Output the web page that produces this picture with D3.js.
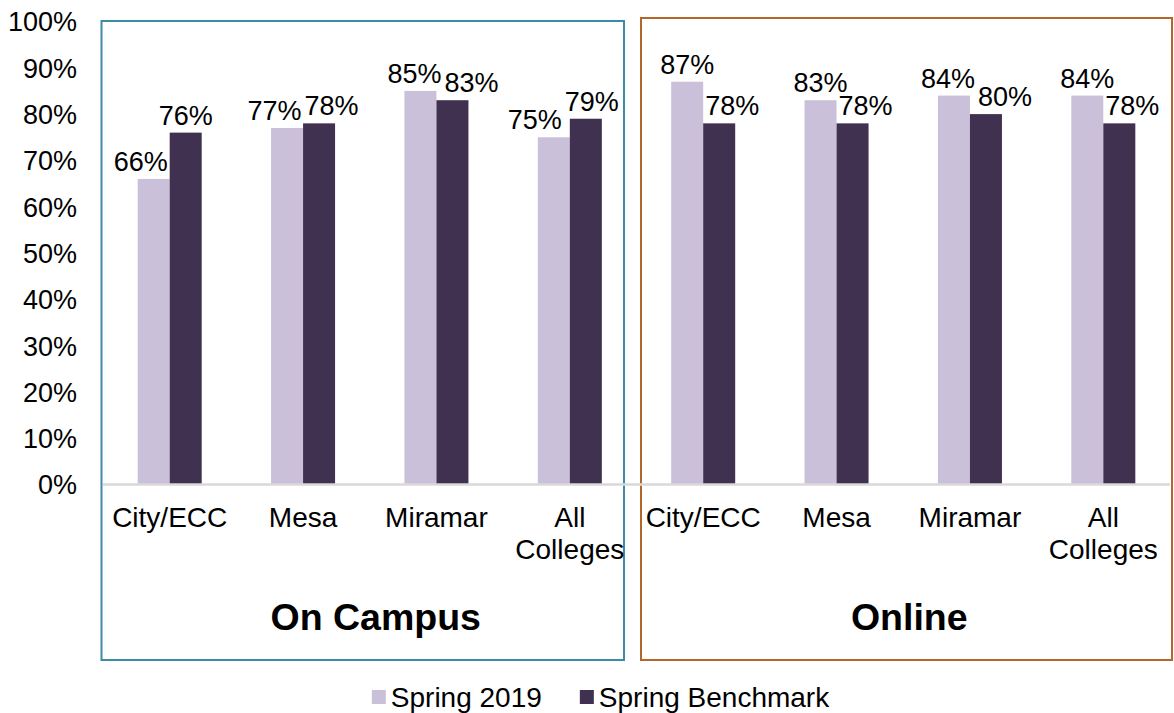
<!DOCTYPE html>
<html><head><meta charset="utf-8">
<script src="https://cdn.jsdelivr.net/npm/d3@7"></script>
<style>body{margin:0;background:#fff}svg{display:block;font-family:"Liberation Sans",Arial,sans-serif}</style>
</head><body><svg id="c" width="1174" height="713"></svg>
<script>
const groups = ["On Campus", "Online"];
const categories = ["City/ECC", "Mesa", "Miramar", "All Colleges"];
const seriesNames = ["Spring 2019", "Spring Benchmark"];
const spring2019 = [0.66, 0.77, 0.85, 0.75, 0.87, 0.83, 0.84, 0.84];
const benchmark = [0.76, 0.78, 0.83, 0.79, 0.78, 0.78, 0.80, 0.78];
const yTicks = [0, 0.1, 0.2, 0.3, 0.4, 0.5, 0.6, 0.7, 0.8, 0.9, 1.0];
const colors = ["#cbc0da", "#403151"];
const groupBorders = ["#3d8ca3", "#b3672a"];

(function () {
const svg = d3.select("#c");
const W = 1174, H = 713;
const mLeft = 103, mRight = 1170, mTop = 21.5, mBottom = 484.5;
const fs = 27, catFs = 28, legFs = 28;

const rows = [];
groups.forEach((g, gi) => categories.forEach((c, ci) => rows.push({g, gi, c, i: gi * categories.length + ci})));

const x = d3.scaleBand().domain(rows.map(r => r.i)).range([mLeft, mRight]).padding(0);
const y = d3.scaleLinear().domain([0, 1]).range([mBottom, mTop]);
const bw = x.bandwidth() * 0.24;

// group boxes
const bStart = x(categories.length);
const boxes = [
  {x0: mLeft - 1.5, x1: bStart - 12.5, y0: 21, y1: 660, c: groupBorders[0]},
  {x0: bStart + 4.5, x1: W - 2, y0: 18, y1: 660, c: groupBorders[1]}
];
svg.selectAll("rect.box").data(boxes).join("rect").attr("class", "box")
  .attr("x", d => d.x0).attr("y", d => d.y0).attr("width", d => d.x1 - d.x0).attr("height", d => d.y1 - d.y0)
  .attr("fill", "none").attr("stroke", d => d.c).attr("stroke-width", 2);

// y axis
const yAxis = d3.axisLeft(y).tickValues(yTicks).tickFormat(d3.format(".0%")).tickSize(0).tickPadding(0);
const ya = svg.append("g").attr("transform", `translate(77,0)`).call(yAxis);
ya.select(".domain").remove();
ya.selectAll("text").attr("font-size", fs).attr("fill", "#000").attr("font-family", "Liberation Sans, Arial, sans-serif").attr("dy", "0.35em");

// bars
const series = [spring2019, benchmark];
const bars = [];
rows.forEach(r => series.forEach((s, si) => bars.push({i: r.i, si, v: s[r.i], x0: x(r.i) + x.bandwidth() / 2 - bw + si * bw})));
svg.selectAll("rect.bar").data(bars).join("rect").attr("class", "bar")
  .attr("x", d => d.x0).attr("y", d => y(d.v)).attr("width", bw).attr("height", d => y(0) - y(d.v))
  .attr("fill", d => colors[d.si]);

// baseline
svg.append("line").attr("x1", mLeft).attr("x2", mRight).attr("y1", y(0)).attr("y2", y(0))
  .attr("stroke", "#d9d9d9").attr("stroke-width", 2.5);

// data labels with simple overlap avoidance
const lab = svg.append("g");
const labels = bars.map(d => {
  const t = lab.append("text").attr("font-size", fs).attr("text-anchor", "middle").text(d3.format(".0%")(d.v));
  const w = t.node().getComputedTextLength();
  const base = y(d.v) - 8;
  return {d, t, w, base, cx: d.x0 + bw / 2, y0: base - 0.72 * fs, y1: base};
});
rows.forEach(r => {
  const [a, b] = labels.filter(l => l.d.i === r.i);
  const ba = bars.find(q => q.i === r.i && q.si === 0), bb = bars.find(q => q.i === r.i && q.si === 1);
  if (a.cx + a.w / 2 > bb.x0 && a.y1 > y(bb.v)) a.cx = bb.x0 - 2 - a.w / 2;
  if (b.cx - b.w / 2 < ba.x0 + bw && b.y1 > y(ba.v)) b.cx = ba.x0 + bw + 2 + b.w / 2;
  const ov = (a.cx + a.w / 2) - (b.cx - b.w / 2);
  if (ov > -3 && a.y1 > b.y0 && b.y1 > a.y0) { const s = (ov + 3) / 2; a.cx -= s; b.cx += s; }
});
labels.forEach(l => l.t.attr("x", l.cx).attr("y", l.base));

// category labels
const cat = svg.append("g").selectAll("text").data(rows).join("text")
  .attr("font-size", catFs).attr("text-anchor", "middle")
  .attr("x", d => x(d.i) + x.bandwidth() / 2).attr("y", 527);
cat.each(function(d) {
  const parts = d.c.split(" ");
  d3.select(this).selectAll("tspan").data(parts).join("tspan")
    .attr("x", x(d.i) + x.bandwidth() / 2).attr("dy", (p, k) => k ? 32 : 0).text(p => p);
});

// group titles
svg.append("g").selectAll("text").data(groups).join("text")
  .attr("font-size", 37.5).attr("font-weight", "bold").attr("text-anchor", "middle")
  .attr("x", (g, gi) => (x(gi * 4) + x(gi * 4 + 3) + x.bandwidth()) / 2 + 6).attr("y", 630).text(g => g);

// legend
const lg = svg.append("g");
const items = lg.selectAll("g").data(seriesNames).join("g");
items.append("rect").attr("width", 14).attr("height", 14).attr("y", 690).attr("fill", (d, i) => colors[i]);
items.append("text").attr("x", 19).attr("y", 707).attr("font-size", legFs).text(d => d);
let off = 0;
const xs = [];
items.each(function() { xs.push(off); off += this.getBBox().width + 38; });
items.attr("transform", (d, i) => `translate(${xs[i]},0)`);
const tw = off - 38;
lg.attr("transform", `translate(${(W - tw) / 2 + 14},0)`);
})();
</script></body></html>
